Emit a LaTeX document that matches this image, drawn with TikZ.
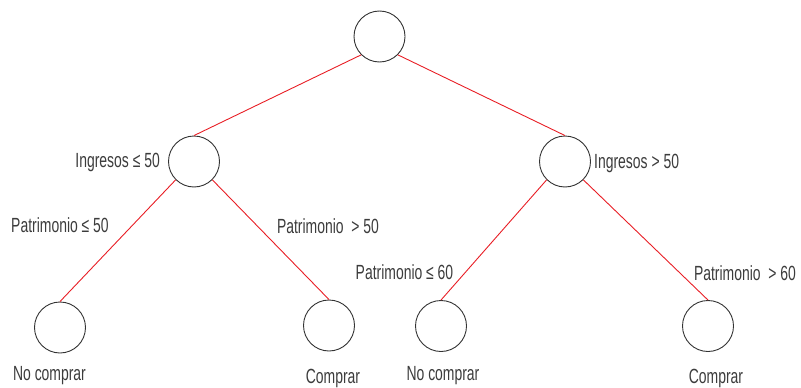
\documentclass[tikz,border=0pt]{standalone}
\usepackage{fontspec}
\newfontfamily\condfont{Liberation Sans}[FakeStretch=0.68]
\definecolor{EdgeRed}{RGB}{232, 30, 37}
\definecolor{TextGray}{RGB}{60, 60, 60}
\usetikzlibrary{positioning}

\begin{document}
\begin{tikzpicture}[x=1pt, y=-1pt,
            state/.style={circle, draw=black!80, line width=0.9pt, minimum size=51pt, inner sep=0pt},
            rule/.style={font=\condfont\fontsize{20.5}{23}\selectfont, text=TextGray, inner sep=1pt},
            edge/.style={draw=EdgeRed, line width=0.9pt},
        ]
            \useasboundingbox (0,0) rectangle (801,388);
            % nodes of the tree
            \node[state] (root) at (379.5,36.5) {};
            \node[state] (low) at (194,161.5) {};
            \node[state] (high) at (565,161.5) {};
            \node[state] (lowA) at (60,327.5) {};
            \node[state] (lowB) at (329,325.5) {};
            \node[state] (highA) at (441,326) {};
            \node[state] (highB) at (708,326) {};
            % branches
            \draw[edge] (root.south west) -- (low.north);
            \draw[edge] (root.south east) -- (high.north);
            \draw[edge] (low.south west) -- (lowA.north);
            \draw[edge] (low.south east) -- (lowB.north);
            \draw[edge] (high.south west) -- (highA.north);
            \draw[edge] (high.south east) -- (highB.north);
            % split rules
            \node[rule, anchor=east] (ingLow) at (161,162) {Ingresos ≤ 50};
            \node[rule, anchor=west] (ingHigh) at (593,163) {Ingresos > 50};
            \node[rule] (patLowA) at (60,225) {Patrimonio ≤ 50};
            \node[rule] (patLowB) at (328,226) {Patrimonio\ \ > 50};
            \node[rule] (patHighA) at (404.5,272) {Patrimonio ≤ 60};
            \node[rule] (patHighB) at (745,273) {Patrimonio\ \ > 60};
            % decisions
            \node[rule] (decA) at (49.5,376) {No comprar};
            \node[rule] (decB) at (333,378.5) {Comprar};
            \node[rule] (decC) at (443,376) {No comprar};
            \node[rule] (decD) at (716,378.5) {Comprar};
        \end{tikzpicture}
\end{document}
